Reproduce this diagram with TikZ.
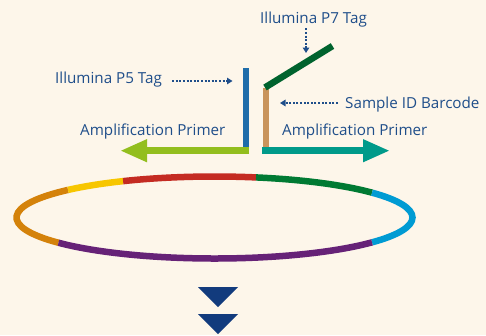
\documentclass[tikz,border=0pt]{standalone}
\usepackage{fontspec}
\setmainfont{Open Sans}
\usepackage{tikz}
\usetikzlibrary{arrows.meta,positioning}

\definecolor{paper}{HTML}{FDF6EA}
\definecolor{ink}{HTML}{1F4E8A}
\definecolor{navy}{HTML}{123B7D}
\definecolor{tagblue}{HTML}{1F6DAA}
\definecolor{tagtan}{HTML}{C9945C}
\definecolor{tagdkgreen}{HTML}{00632E}
\definecolor{primergreen}{HTML}{93BE1E}
\definecolor{primerteal}{HTML}{009A8A}
\definecolor{ringorange}{HTML}{D4820A}
\definecolor{ringyellow}{HTML}{F7C600}
\definecolor{ringred}{HTML}{C42B22}
\definecolor{ringgreen}{HTML}{007A33}
\definecolor{ringblue}{HTML}{009BD3}
\definecolor{ringpurple}{HTML}{662277}

\begin{document}
\begin{tikzpicture}[x=1pt, y=1pt]
% STYLES
\tikzset{
    label/.style={inner sep=0pt, anchor=base west, text=ink,
    font=\fontsize{15.2}{18}\selectfont},
    pointer/.style={draw=ink, line width=1.3pt, dash pattern=on 2pt off 1.6pt,
    -{Triangle[length=5.5pt,width=6.5pt]}},
    tagbar/.style={line width=6.6pt},
    primer/.style={line width=6.8pt, -{Triangle[length=27pt,width=21pt]}},
    ring/.style={line width=6.5pt}
}

\useasboundingbox[fill=paper] (0,0) rectangle (486,-335);

% tags and barcode
\coordinate (P5Top) at (246,-68);
\coordinate (P5Bot) at (246,-147.3);
\coordinate (CodeTop) at (265.8,-88);
\coordinate (CodeBot) at (265.8,-147.3);
\coordinate (P7Low) at (265,-87.5);
\coordinate (P7High) at (332.5,-46);
\draw[tagbar, tagblue] (P5Top) -- (P5Bot);
\draw[tagbar, tagtan] (CodeTop) -- (CodeBot);
\draw[tagbar, tagdkgreen] (P7Low) -- (P7High);

% primers
\coordinate (LeftStart) at (249,-150.7);
\coordinate (LeftTip) at (120,-150.7);
\coordinate (RightStart) at (262.4,-150.7);
\coordinate (RightTip) at (390,-150.7);
\draw[primer, primergreen] (LeftStart) -- (LeftTip);
\draw[primer, primerteal] (RightStart) -- (RightTip);

% labels
\node [label] at (260,-23) (P7Tag) {Illumina P7 Tag};
\node [label] at (55,-83.3) (P5Tag) {Illumina P5 Tag};
\node [label] at (345,-108.3) (Barcode) {Sample ID Barcode};
\node [label] at (80,-135) (LeftPrimer) {Amplification Primer};
\node [label] at (282,-135) (RightPrimer) {Amplification Primer};

% Draw the pointers
\coordinate (P7Head) at (306,-53);
\coordinate (P5Head) at (232.5,-81);
\coordinate (BarcodeHead) at (280,-103);
\draw[pointer, shorten <=1.5pt] (P7Tag.south -| P7Head) -- (P7Head);
\draw[pointer, shorten <=10pt] (P5Tag.east |- P5Head) -- (P5Head);
\draw[pointer, shorten <=7pt] (Barcode.west |- BarcodeHead) -- (BarcodeHead);

% ring
\coordinate (Ring) at (214.5,-217.5);
\foreach \a/\b/\c in {137.7/218/ringorange, 117.5/137.7/ringyellow,
    77.9/117.5/ringred, 37.3/77.9/ringgreen, -37.3/37.3/ringblue,
    218/322.7/ringpurple}
  \draw[ring, \c] (Ring) ++(\a:198 and 41)
    arc[start angle=\a, end angle=\b, x radius=198, y radius=41];

% next step
\foreach \y in {287,314}
  \fill[navy] (198,-\y) -- (238,-\y) -- (218,-\y-20) -- cycle;
\end{tikzpicture}
\end{document}
